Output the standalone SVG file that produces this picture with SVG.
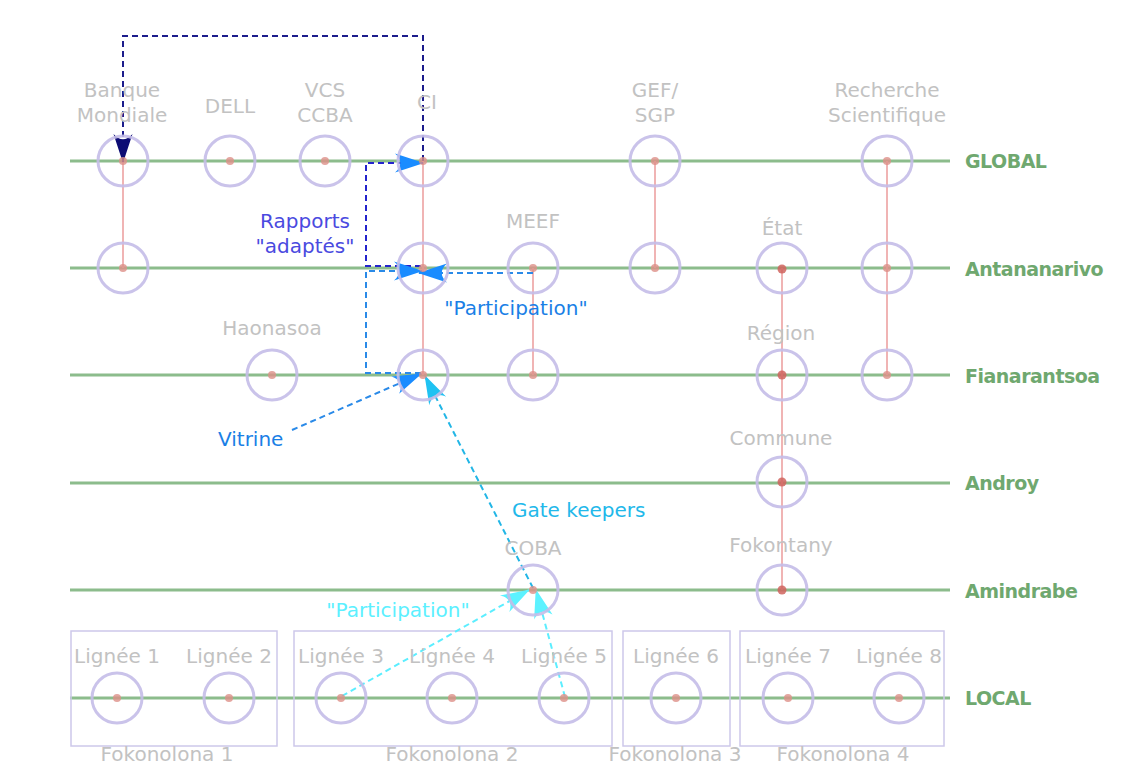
<svg xmlns="http://www.w3.org/2000/svg" width="1130" height="767" viewBox="0 0 1130 767">
<style>
  .lane{stroke:#8cbc8c;stroke-width:3;fill:none}
  .lvl{font-family:"DejaVu Sans",sans-serif;font-weight:bold;font-size:19px;letter-spacing:-0.5px;fill:#6fa86f}
  .lbl{font-family:"DejaVu Sans",sans-serif;font-size:20px;fill:#c2c2c2;text-anchor:middle}
  .ring{fill:none;stroke:#c4bde8;stroke-width:3;opacity:0.9}
  .dot{fill:#dd9088;opacity:0.8}
  .dotd{fill:#d0645e;opacity:0.85}
  .hier{stroke:#f0b4b4;stroke-width:2;fill:none}
  .box{fill:none;stroke:#cdc8ea;stroke-width:1.5}
  .dash{fill:none;stroke-width:2;stroke-dasharray:6,4}
  .ann{font-family:"DejaVu Sans",sans-serif;font-size:20px}
</style>
<defs>
  <marker id="aNavy" markerUnits="userSpaceOnUse" markerWidth="32" markerHeight="22" viewBox="-30 -11 32 22" refX="0" refY="0" orient="auto">
    <path d="M1,0 L-28,-9.5 C-21,-3.5 -21,3.5 -28,9.5 Z" fill="#0c0c74"/>
  </marker>
  <marker id="aBlue" markerUnits="userSpaceOnUse" markerWidth="32" markerHeight="22" viewBox="-30 -11 32 22" refX="0" refY="0" orient="auto">
    <path d="M1,0 L-28,-9.5 C-21,-3.5 -21,3.5 -28,9.5 Z" fill="#1a8cff"/>
  </marker>
  <marker id="aSky" markerUnits="userSpaceOnUse" markerWidth="32" markerHeight="22" viewBox="-30 -11 32 22" refX="0" refY="0" orient="auto">
    <path d="M1,0 L-28,-9.5 C-21,-3.5 -21,3.5 -28,9.5 Z" fill="#1fc2f2"/>
  </marker>
  <marker id="aCyan" markerUnits="userSpaceOnUse" markerWidth="32" markerHeight="22" viewBox="-30 -11 32 22" refX="0" refY="0" orient="auto">
    <path d="M1,0 L-28,-9.5 C-21,-3.5 -21,3.5 -28,9.5 Z" fill="#5cf2ff"/>
  </marker>
</defs>
<rect width="1130" height="767" fill="#ffffff"/>

<g id="levels">
  <line class="lane" x1="70" y1="161" x2="950" y2="161"/>
  <line class="lane" x1="70" y1="268" x2="950" y2="268"/>
  <line class="lane" x1="70" y1="375" x2="950" y2="375"/>
  <line class="lane" x1="70" y1="483" x2="950" y2="483"/>
  <line class="lane" x1="70" y1="590" x2="950" y2="590"/>
  <line class="lane" x1="70" y1="698" x2="950" y2="698"/>
  <text class="lvl" x="965" y="168">GLOBAL</text>
  <text class="lvl" x="965" y="276">Antananarivo</text>
  <text class="lvl" x="965" y="383">Fianarantsoa</text>
  <text class="lvl" x="965" y="490">Androy</text>
  <text class="lvl" x="965" y="598">Amindrabe</text>
  <text class="lvl" x="965" y="705">LOCAL</text>
</g>

<g id="fokonolona">
  <g id="fokonolona1"><rect class="box" x="71" y="631" width="206" height="115"/><text class="lbl" x="167" y="761">Fokonolona 1</text></g>
  <g id="fokonolona2"><rect class="box" x="294" y="631" width="318" height="115"/><text class="lbl" x="452" y="761">Fokonolona 2</text></g>
  <g id="fokonolona3"><rect class="box" x="623" y="631" width="107" height="115"/><text class="lbl" x="675" y="761">Fokonolona 3</text></g>
  <g id="fokonolona4"><rect class="box" x="740" y="631" width="204" height="115"/><text class="lbl" x="843" y="761">Fokonolona 4</text></g>
</g>

<g id="connectors">
  <line class="hier" x1="123" y1="161" x2="123" y2="268"/>
  <line class="hier" x1="423" y1="161" x2="423" y2="375"/>
  <line class="hier" x1="533" y1="268" x2="533" y2="375"/>
  <line class="hier" x1="655" y1="161" x2="655" y2="268"/>
  <line class="hier" x1="782" y1="268" x2="782" y2="590"/>
  <line class="hier" x1="887" y1="161" x2="887" y2="375"/>

  <path class="dash" stroke="#1c1c8c" d="M423,161 V36 H123 V162" marker-end="url(#aNavy)"/>
  <path class="dash" stroke="#2424cc" d="M421,266 H366 V163 H423" marker-end="url(#aBlue)"/>
  <path class="dash" stroke="#2a8ae8" d="M421,373 H366 V271 H422" marker-end="url(#aBlue)"/>
  <path class="dash" stroke="#2a8ae8" d="M533,273 H419" marker-end="url(#aBlue)"/>
  <path class="dash" stroke="#2a8ae8" d="M292,430 L421,374" marker-end="url(#aBlue)"/>
  <path class="dash" stroke="#22b6e6" d="M533,588 L425,376" marker-end="url(#aSky)"/>
  <path class="dash" stroke="#5ceeff" stroke-width="1.6" d="M342,696 L529,590" marker-end="url(#aCyan)"/>
  <path class="dash" stroke="#5ceeff" stroke-width="1.6" d="M565,697 L536,590" marker-end="url(#aCyan)"/>

  <text class="ann" fill="#4a4ae0" x="305" y="228" text-anchor="middle">Rapports</text>
  <text class="ann" fill="#4a4ae0" x="305" y="253" text-anchor="middle">"adaptés"</text>
  <text class="ann" fill="#1a7fe6" x="516" y="315" text-anchor="middle">"Participation"</text>
  <text class="ann" fill="#1a7fe6" x="218" y="446">Vitrine</text>
  <text class="ann" fill="#22b8ea" x="512" y="517">Gate keepers</text>
  <text class="ann" fill="#5cf0ff" x="398" y="617" text-anchor="middle">"Participation"</text>
</g>

<g id="banque-mondiale">
  <text class="lbl" x="122" y="97">Banque</text><text class="lbl" x="122" y="122">Mondiale</text>
  <circle class="ring" cx="123" cy="161" r="25"/><circle class="dot" cx="123" cy="161" r="4"/>
  <circle class="ring" cx="123" cy="268" r="25"/><circle class="dot" cx="123" cy="268" r="4"/>
</g>
<g id="dell">
  <text class="lbl" x="230" y="113">DELL</text>
  <circle class="ring" cx="230" cy="161" r="25"/><circle class="dot" cx="230" cy="161" r="4"/>
</g>
<g id="vcs-ccba">
  <text class="lbl" x="325" y="97">VCS</text><text class="lbl" x="325" y="122">CCBA</text>
  <circle class="ring" cx="325" cy="161" r="25"/><circle class="dot" cx="325" cy="161" r="4"/>
</g>
<g id="ci">
  <text class="lbl" x="427" y="109">CI</text>
  <circle class="ring" cx="423" cy="161" r="25"/><circle class="dot" cx="423" cy="161" r="4"/>
  <circle class="ring" cx="423" cy="268" r="25"/><circle class="dot" cx="423" cy="268" r="4"/>
  <circle class="ring" cx="423" cy="375" r="25"/><circle class="dot" cx="423" cy="375" r="4"/>
</g>
<g id="meef">
  <text class="lbl" x="533" y="228">MEEF</text>
  <circle class="ring" cx="533" cy="268" r="25"/><circle class="dot" cx="533" cy="268" r="4"/>
  <circle class="ring" cx="533" cy="375" r="25"/><circle class="dot" cx="533" cy="375" r="4"/>
</g>
<g id="haonasoa">
  <text class="lbl" x="272" y="335">Haonasoa</text>
  <circle class="ring" cx="272" cy="375" r="25"/><circle class="dot" cx="272" cy="375" r="4"/>
</g>
<g id="gef-sgp">
  <text class="lbl" x="655" y="97">GEF/</text><text class="lbl" x="655" y="122">SGP</text>
  <circle class="ring" cx="655" cy="161" r="25"/><circle class="dot" cx="655" cy="161" r="4"/>
  <circle class="ring" cx="655" cy="268" r="25"/><circle class="dot" cx="655" cy="268" r="4"/>
</g>
<g id="etat">
  <text class="lbl" x="782" y="235">État</text>
  <circle class="ring" cx="782" cy="268" r="25"/><circle class="dotd" cx="782" cy="269" r="4.5"/>
</g>
<g id="region">
  <text class="lbl" x="781" y="340">Région</text>
  <circle class="ring" cx="782" cy="375" r="25"/><circle class="dotd" cx="782" cy="375" r="4.5"/>
</g>
<g id="commune">
  <text class="lbl" x="781" y="445">Commune</text>
  <circle class="ring" cx="782" cy="482" r="25"/><circle class="dotd" cx="782" cy="482" r="4.5"/>
</g>
<g id="fokontany">
  <text class="lbl" x="781" y="552">Fokontany</text>
  <circle class="ring" cx="782" cy="590" r="25"/><circle class="dotd" cx="782" cy="590" r="4.5"/>
</g>
<g id="recherche-scientifique">
  <text class="lbl" x="887" y="97">Recherche</text><text class="lbl" x="887" y="122">Scientifique</text>
  <circle class="ring" cx="887" cy="161" r="25"/><circle class="dot" cx="887" cy="161" r="4"/>
  <circle class="ring" cx="887" cy="268" r="25"/><circle class="dot" cx="887" cy="268" r="4"/>
  <circle class="ring" cx="887" cy="375" r="25"/><circle class="dot" cx="887" cy="375" r="4"/>
</g>
<g id="coba">
  <text class="lbl" x="533" y="555">COBA</text>
  <circle class="ring" cx="533" cy="590" r="25"/><circle class="dot" cx="533" cy="590" r="4"/>
</g>
<g id="lignee1"><text class="lbl" x="117" y="663">Lignée 1</text><circle class="ring" cx="117" cy="698" r="25"/><circle class="dot" cx="117" cy="698" r="4"/></g>
<g id="lignee2"><text class="lbl" x="229" y="663">Lignée 2</text><circle class="ring" cx="229" cy="698" r="25"/><circle class="dot" cx="229" cy="698" r="4"/></g>
<g id="lignee3"><text class="lbl" x="341" y="663">Lignée 3</text><circle class="ring" cx="341" cy="698" r="25"/><circle class="dot" cx="341" cy="698" r="4"/></g>
<g id="lignee4"><text class="lbl" x="452" y="663">Lignée 4</text><circle class="ring" cx="452" cy="698" r="25"/><circle class="dot" cx="452" cy="698" r="4"/></g>
<g id="lignee5"><text class="lbl" x="564" y="663">Lignée 5</text><circle class="ring" cx="564" cy="698" r="25"/><circle class="dot" cx="564" cy="698" r="4"/></g>
<g id="lignee6"><text class="lbl" x="676" y="663">Lignée 6</text><circle class="ring" cx="676" cy="698" r="25"/><circle class="dot" cx="676" cy="698" r="4"/></g>
<g id="lignee7"><text class="lbl" x="788" y="663">Lignée 7</text><circle class="ring" cx="788" cy="698" r="25"/><circle class="dot" cx="788" cy="698" r="4"/></g>
<g id="lignee8"><text class="lbl" x="899" y="663">Lignée 8</text><circle class="ring" cx="899" cy="698" r="25"/><circle class="dot" cx="899" cy="698" r="4"/></g>
</svg>
